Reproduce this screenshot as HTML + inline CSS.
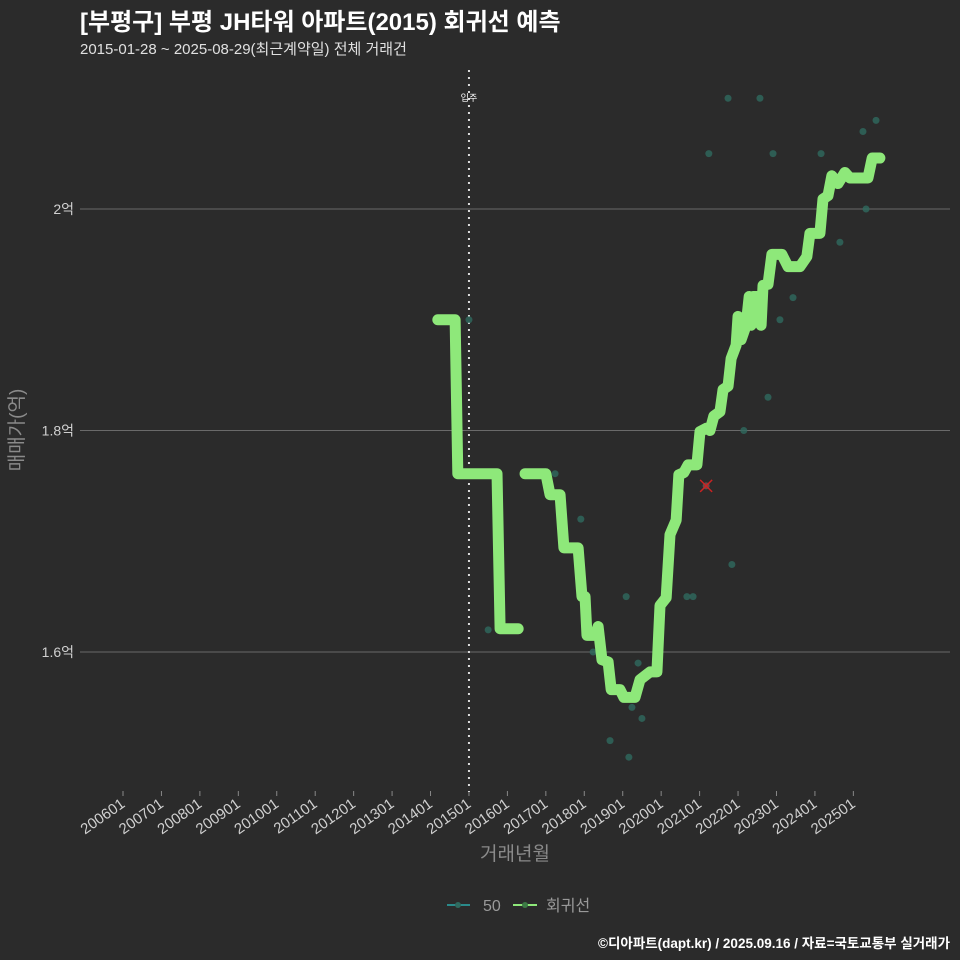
<!DOCTYPE html>
<html><head><meta charset="utf-8"><style>
body{margin:0;background:#2b2b2b;}
svg{display:block;font-family:"Liberation Sans","Noto Sans CJK KR",sans-serif;}
</style></head><body>
<svg id="c" width="960" height="960" viewBox="0 0 960 960">
<rect width="960" height="960" fill="#2b2b2b"/>
<text x="80" y="30" font-size="24" font-weight="bold" fill="#ffffff">[부평구] 부평 JH타워 아파트(2015) 회귀선 예측</text>
<text x="80" y="54" font-size="15" fill="#e0e0e0">2015-01-28 ~ 2025-08-29(최근계약일) 전체 거래건</text>
<g id="grid"></g>
<g id="xaxis"></g>
<g id="yaxis"></g>
<g id="marks"></g>
<text x="515" y="860" font-size="19" fill="#8a8a8a" text-anchor="middle">거래년월</text>
<text transform="translate(23,430) rotate(-90)" font-size="19" fill="#8a8a8a" text-anchor="middle">매매가(억)</text>
<g>
<g>
<line x1="447" y1="905" x2="470" y2="905" stroke="#2a8a8a" stroke-width="2"/>
<circle cx="458" cy="905" r="3" fill="#2f6a5f"/>
<text x="483" y="911" font-size="16" fill="#999">50</text></g>
<g>
<line x1="513" y1="905" x2="537" y2="905" stroke="#8ee87a" stroke-width="2"/>
<circle cx="525" cy="905" r="3" fill="#3d7a45"/>
<text x="546" y="911" font-size="16" fill="#999">회귀선</text></g>
</g>
<text x="950" y="948" font-size="13.5" font-weight="bold" fill="#ffffff" text-anchor="end">©디아파트(dapt.kr) / 2025.09.16 / 자료=국토교통부 실거래가</text>
</svg>
<script>
const yTicks=[1.6,1.8,2.0];
const yTickLabels=["1.6억","1.8억","2억"];
const xTickYears=[2006,2007,2008,2009,2010,2011,2012,2013,2014,2015,2016,2017,2018,2019,2020,2021,2022,2023,2024,2025];
const xTickLabels=["200601","200701","200801","200901","201001","201101","201201","201301","201401","201501","201601","201701","201801","201901","202001","202101","202201","202301","202401","202501"];
const moveInYear=2015.0;
const line1T=[2014.19,2014.64,2014.71,2015.73,2015.81,2016.28];
const line1V=[1.900,1.900,1.761,1.761,1.621,1.621];
const line2T=[2016.46,2017.00,2017.11,2017.37,2017.47,2017.84,2017.94,2018.02,2018.07,2018.28,2018.36,2018.46,2018.62,2018.70,2018.93,2019.03,2019.32,2019.45,2019.71,2019.89,2019.97,2020.13,2020.23,2020.39,2020.46,2020.59,2020.70,2020.93,2021.01,2021.17,2021.27,2021.37,2021.53,2021.61,2021.74,2021.82,2021.95,2022.00,2022.08,2022.21,2022.29,2022.34,2022.39,2022.52,2022.60,2022.65,2022.78,2022.88,2023.14,2023.30,2023.61,2023.79,2023.87,2024.13,2024.21,2024.34,2024.44,2024.60,2024.78,2024.91,2025.38,2025.49,2025.69];
const line2V=[1.761,1.761,1.742,1.742,1.694,1.694,1.650,1.650,1.615,1.615,1.623,1.593,1.591,1.566,1.566,1.559,1.559,1.575,1.582,1.582,1.642,1.649,1.706,1.719,1.760,1.762,1.769,1.769,1.799,1.802,1.800,1.813,1.817,1.837,1.840,1.865,1.877,1.903,1.882,1.895,1.921,1.895,1.921,1.921,1.895,1.931,1.932,1.959,1.959,1.948,1.948,1.957,1.978,1.978,2.009,2.012,2.030,2.023,2.033,2.028,2.028,2.046,2.046];
const ptsT=[2015.00,2015.50,2017.24,2017.91,2018.23,2019.09,2020.67,2020.83,2021.84,2019.40,2019.24,2019.50,2018.67,2019.16,2022.15,2022.78,2023.09,2023.43,2024.65,2025.33,2025.25,2025.59,2024.16,2022.91,2021.24,2021.74,2022.57];
const ptsV=[1.900,1.620,1.761,1.720,1.600,1.650,1.650,1.650,1.679,1.590,1.550,1.540,1.520,1.505,1.800,1.830,1.900,1.920,1.970,2.000,2.070,2.080,2.050,2.050,2.050,2.100,2.100];
const redT=[2021.17];
const redV=[1.750];

const NS="http://www.w3.org/2000/svg";
const X=t=>123+(t-2006)*38.44;
const Y=v=>209+(2.0-v)*1107.5;
function mk(tag,attrs,parent){const e=document.createElementNS(NS,tag);for(const k in attrs)e.setAttribute(k,attrs[k]);parent.appendChild(e);return e;}
const grid=document.getElementById('grid'),xa=document.getElementById('xaxis'),ya=document.getElementById('yaxis'),marks=document.getElementById('marks');
yTicks.forEach((v,i)=>{
 const l=mk('line',{x1:80,x2:950,y1:Y(v),y2:Y(v),stroke:'#6a6a6a','stroke-width':1},grid);
 
 
 const t=mk('text',{x:74,y:Y(v)+5,'font-size':14,fill:'#d0d0d0','text-anchor':'end'},ya);
 t.textContent=yTickLabels[i];
 
 
});
xTickYears.forEach((yr,i)=>{
 const x=X(yr);
 const tk=mk('line',{x1:x,x2:x,y1:791,y2:796,stroke:'#888','stroke-width':1},xa);
 
 
 const t=mk('text',{x:x+3,y:806,'font-size':15,fill:'#d0d0d0','text-anchor':'end',transform:`rotate(-35 ${x+3} 806)`},xa);
 t.textContent=xTickLabels[i];
 
 
});
const mx=X(moveInYear);
const vl=mk('line',{x1:mx,x2:mx,y1:70,y2:792,stroke:'#dddddd','stroke-width':2,'stroke-dasharray':'2 5'},marks);


const vt=mk('text',{x:mx,y:101,'font-size':9,fill:'#ffffff','text-anchor':'middle'},marks);
vt.textContent='입주';


ptsT.forEach((t,i)=>{
 const c=mk('circle',{cx:X(t),cy:Y(ptsV[i]),r:3.5,fill:'#2f6a5f','fill-opacity':0.8},marks);
 
 
});
[[line1T,line1V],[line2T,line2V]].forEach(([T,V],k)=>{
 const p=mk('polyline',{points:T.map((t,i)=>X(t)+','+Y(V[i])).join(' '),fill:'none',stroke:'#8ee87a','stroke-width':11,'stroke-linecap':'round','stroke-linejoin':'round'},marks);
 
 
});
redT.forEach((t,i)=>{
 const x=X(t),y=Y(redV[i]);
 const g=mk('g',{},marks);
 
 
 mk('circle',{cx:x,cy:y,r:3.5,fill:'#6a4a4a'},g);
 mk('path',{d:`M${x-6} ${y-6}L${x+6} ${y+6}M${x+6} ${y-6}L${x-6} ${y+6}`,stroke:'#cc2222','stroke-width':1.5},g);
});
</script>
</body></html>
